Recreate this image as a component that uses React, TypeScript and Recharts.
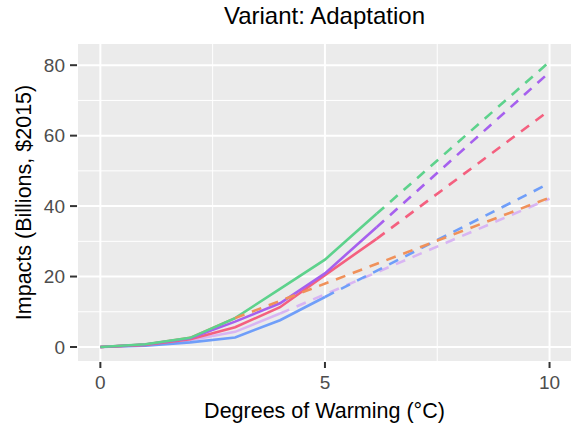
import React from "react";
import { LineChart, Line, XAxis, YAxis, CartesianGrid, ReferenceLine } from "recharts";

// Degrees of warming at which modelled (solid) values exist
const degrees = [0, 1, 2, 3, 4, 5, 6.15];
// Projection end point (dashed extrapolation)
const projectionEnd = 10;

// Modelled impacts (Billions, $2015) per series
const greenVals = [0, 0.8, 2.6, 8.2, 16.5, 24.8, 37.8];
const purpleVals = [0, 0.7, 2.5, 7.2, 12.4, 20.9, 34.0];
const pinkVals = [0, 0.6, 2.2, 5.6, 11.3, 20.4, 30.7];
const lavenderVals = [0, 0.6, 1.9, 4.3, 9.5];
const blueVals = [0, 0.4, 1.3, 2.7, 7.6, 14.2];
const orangeVals = [0, 0.7, 2.6, 8.2];

// Extrapolated values at 10 °C
const greenEnd = 81;
const purpleEnd = 78;
const pinkEnd = 67.2;
const lavenderEnd = 42.1;
const blueEnd = 46.5;
const orangeEnd = 42.4;

const xTicks = [0, 5, 10];
const yTicks = [0, 20, 40, 60, 80];
const xMinor = [2.5, 7.5];
const yMinor = [10, 30, 50, 70];

const series = [
  { name: "lavender", color: "#d8b5f3", vals: lavenderVals, end: lavenderEnd },
  { name: "blue", color: "#6f9ef9", vals: blueVals, end: blueEnd },
  { name: "orange", color: "#f0915a", vals: orangeVals, end: orangeEnd },
  { name: "pink", color: "#f4607f", vals: pinkVals, end: pinkEnd },
  { name: "purple", color: "#a660ee", vals: purpleVals, end: purpleEnd },
  { name: "green", color: "#5dd28c", vals: greenVals, end: greenEnd },
];

const solidData = (vals: number[]) => vals.map((v, i) => ({ x: degrees[i], y: v }));
const dashedData = (vals: number[], end: number) => {
  const i = vals.length - 1;
  return [
    { x: degrees[i], y: vals[i] },
    { x: projectionEnd, y: end },
  ];
};

const FONT = "'Liberation Sans', Arial, sans-serif";

export default function App() {
  return (
    <div style={{ position: "absolute", left: 0, top: 0, width: 578, height: 428, background: "#fff" }}>
      <LineChart
        width={578}
        height={428}
        margin={{ top: 43, right: 6, bottom: 36, left: 0 }}
      >
        <CartesianGrid fill="#ebebeb" stroke="#ffffff" strokeWidth={2} />
        {xMinor.map((v) => (
          <ReferenceLine key={"xm" + v} x={v} stroke="#ffffff" strokeWidth={1} />
        ))}
        {yMinor.map((v) => (
          <ReferenceLine key={"ym" + v} y={v} stroke="#ffffff" strokeWidth={1} />
        ))}
        <XAxis
          type="number"
          dataKey="x"
          domain={[-0.52, 10.5]}
          ticks={xTicks}
          allowDataOverflow
          axisLine={false}
          tickSize={6}
          tickMargin={8}
          height={30}
          tickLine={{ stroke: "#333333", strokeWidth: 2 }}
          tick={{ fontSize: 19, fill: "#4d4d4d", fontFamily: FONT }}
        />
        <YAxis
          type="number"
          dataKey="y"
          domain={[-4.26, 86.3]}
          ticks={yTicks}
          allowDataOverflow
          axisLine={false}
          tickSize={7}
          tickMargin={5}
          width={77}
          tickLine={{ stroke: "#333333", strokeWidth: 2 }}
          tick={{ fontSize: 19, fill: "#4d4d4d", fontFamily: FONT }}
        />
        {series.map((s) => (
          <Line
            key={s.name + "-solid"}
            data={solidData(s.vals)}
            dataKey="y"
            type="linear"
            stroke={s.color}
            strokeWidth={2.6}
            dot={false}
            activeDot={false}
            isAnimationActive={false}
          />
        ))}
        {series.map((s) => (
          <Line
            key={s.name + "-dashed"}
            data={dashedData(s.vals, s.end)}
            dataKey="y"
            type="linear"
            stroke={s.color}
            strokeWidth={2.6}
            strokeDasharray="10 8"
            dot={false}
            activeDot={false}
            isAnimationActive={false}
          />
        ))}
      </LineChart>
      <svg
        width={578}
        height={428}
        style={{ position: "absolute", left: 0, top: 0, pointerEvents: "none" }}
      >
        <text x={324.5} y={24} textAnchor="middle" fontSize={24} fontFamily={FONT} fill="#000">
          Variant: Adaptation
        </text>
        <text x={324.5} y={418} textAnchor="middle" fontSize={21.5} fontFamily={FONT} fill="#000">
          Degrees of Warming (°C)
        </text>
        <text
          x={0}
          y={0}
          transform="translate(31 202.5) rotate(-90)"
          textAnchor="middle"
          fontSize={21.5}
          fontFamily={FONT}
          fill="#000"
        >
          Impacts (Billions, $2015)
        </text>
      </svg>
    </div>
  );
}
